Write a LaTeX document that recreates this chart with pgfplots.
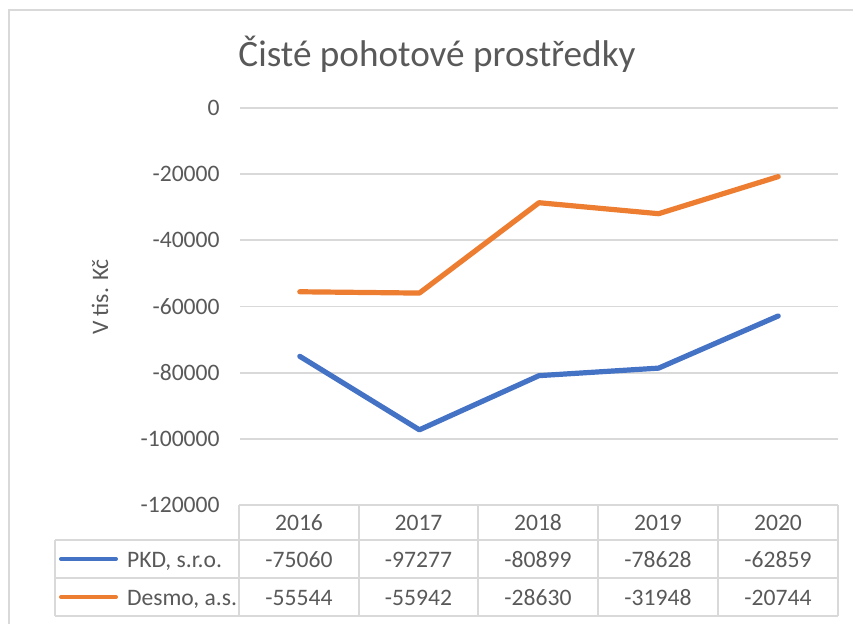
\documentclass[border=0pt]{standalone}
\usepackage{fontspec}
\setmainfont{Carlito}
\usepackage{pgfplots}
\pgfplotsset{compat=1.18}
\definecolor{pkd}{HTML}{4472C4}
\definecolor{desmo}{HTML}{ED7D31}
\definecolor{gridc}{HTML}{D9D9D9}
\definecolor{txt}{HTML}{595959}
\begin{document}
\begin{tikzpicture}
\path[use as bounding box] (0,0) rectangle (426.5pt,311.5pt);
\begin{axis}[
    at={(120pt,59pt)}, anchor=south west,
    scale only axis, width=299pt, height=198.5pt,
    xmin=-0.5, xmax=4.5,
    ymin=-120000, ymax=0,
    ytick={-120000,-100000,-80000,-60000,-40000,-20000,0},
    yticklabels={-120000,-100000,-80000,-60000,-40000,-20000,0},
    scaled y ticks=false,
    xtick=\empty,
    ymajorgrids,
    grid style={gridc, line width=0.9pt},
    axis line style={draw=none},
    major tick style={draw=none},
    major tick length=0pt,
    tick label style={font=\fontsize{11.8}{14}\selectfont, text=txt},
    yticklabel style={inner sep=0pt, xshift=-10pt},
    clip=false,
]
\addplot[pkd, line width=2.6pt, line join=round, line cap=round] coordinates {(0,-75060) (1,-97277) (2,-80899) (3,-78628) (4,-62859)};
\addplot[desmo, line width=2.6pt, line join=round, line cap=round] coordinates {(0,-55544) (1,-55942) (2,-28630) (3,-31948) (4,-20744)};
\end{axis}
\begin{scope}[shift={(0pt,311.5pt)}, x=0.5pt, y=-0.5pt]
  % chart border
  \draw[gridc, line width=1pt] (9,700) -- (9,10) -- (900,10);
  % title and y label
  \node[anchor=base, text=txt, font=\fontsize{18.6}{22}\selectfont] at (437,66) {Čisté pohotové prostředky};
  \node[rotate=90, anchor=base, text=txt, font=\fontsize{11.8}{14}\selectfont] at (108,297) {V tis. Kč};
  % data table grid
  \draw[gridc, line width=1pt]
    (239,505) -- (838,505)
    (55,540) -- (838,540)
    (55,578) -- (838,578)
    (55,616) -- (838,616)
    (55,540) -- (55,616)
    (239,505) -- (239,616)
    (359,505) -- (359,616)
    (478,505) -- (478,616)
    (598,505) -- (598,616)
    (718,505) -- (718,616)
    (838,505) -- (838,616);
  % legend keys
  \draw[pkd, line width=2pt, line cap=round] (61,559) -- (116,559);
  \draw[desmo, line width=2pt, line cap=round] (61,597) -- (116,597);
  \begin{scope}[every node/.style={anchor=base, text=txt, font=\fontsize{11.8}{14}\selectfont}]
    \node[anchor=base west] at (120,567) {PKD, s.r.o.};
    \node[anchor=base west] at (120,605) {Desmo, a.s.};
    \foreach \x/\yr/\a/\b in {299/2016/-75060/-55544, 418.5/2017/-97277/-55942, 538/2018/-80899/-28630, 658/2019/-78628/-31948, 778/2020/-62859/-20744} {
      \node at (\x,530) {\yr};
      \node at (\x,567) {\a};
      \node at (\x,605) {\b};
    }
  \end{scope}
\end{scope}
\end{tikzpicture}
\end{document}
